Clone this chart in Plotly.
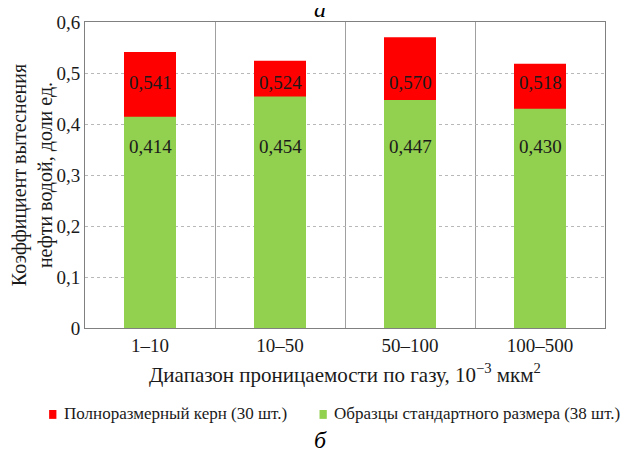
import plotly.graph_objects as go

categories = ["1–10", "10–50", "50–100", "100–500"]
full_core = [0.541, 0.524, 0.570, 0.518]
standard = [0.414, 0.454, 0.447, 0.430]
series_names = ["Полноразмерный керн (30 шт.)", "Образцы стандартного размера (38 шт.)"]
series_colors = ["#ff0000", "#92d050"]
ytick_vals = [0, 0.1, 0.2, 0.3, 0.4, 0.5, 0.6]
ytick_text = ["0", "0,1", "0,2", "0,3", "0,4", "0,5", "0,6"]

# label heights (style: value labels sit at a common height inside each segment)
RED_LABEL_Y = 0.482
GREEN_LABEL_Y = 0.355

FONT = "Liberation Serif"
TXT = "#1a1a1a"
fig = go.Figure()
fig.add_trace(go.Bar(x=categories, y=full_core, name=series_names[0],
                     marker=dict(color=series_colors[0], line=dict(width=0)), width=0.4))
fig.add_trace(go.Bar(x=categories, y=standard, name=series_names[1],
                     marker=dict(color=series_colors[1], line=dict(width=0)), width=0.4))

fmt = lambda v: f"{v:.3f}".replace(".", ",")
for c, r, g in zip(categories, full_core, standard):
    fig.add_annotation(x=c, y=RED_LABEL_Y, text=fmt(r), showarrow=False,
                       font=dict(family=FONT, size=19, color=TXT), yanchor="middle")
    fig.add_annotation(x=c, y=GREEN_LABEL_Y, text=fmt(g), showarrow=False,
                       font=dict(family=FONT, size=19, color=TXT), yanchor="middle")

# panel letters
fig.add_annotation(xref="paper", yref="paper", x=0.452, y=1.0, yshift=13, text="<i>а</i>",
                   showarrow=False, font=dict(family=FONT, size=24, color="#000"), yanchor="middle")
fig.add_annotation(xref="paper", yref="paper", x=0.452, y=-0.366, text="<i>б</i>",
                   showarrow=False, font=dict(family=FONT, size=24, color="#000"), yanchor="middle")

# manual single-line legend
legend_pos = [(-0.069, -0.044), (0.451, 0.475)]
for (sx, tx), name, col in zip(legend_pos, series_names, series_colors):
    fig.add_shape(type="rect", xref="paper", yref="paper", x0=sx, x1=sx + 0.014,
                  y0=-0.268, y1=-0.297, fillcolor=col, line=dict(width=0))
    fig.add_annotation(xref="paper", yref="paper", x=tx, y=-0.281, xanchor="left", yanchor="middle",
                       text=name, showarrow=False, font=dict(family=FONT, size=17, color=TXT))

# the page body has an 8px margin, so the figure is 8px smaller and margins shifted
fig.update_layout(
    width=630, height=444, barmode="overlay", separators=", ",
    paper_bgcolor="white", plot_bgcolor="white",
    margin=dict(l=77, r=33, t=14, b=124, autoexpand=False),
    font=dict(family=FONT, size=18, color=TXT),
    showlegend=False,
    xaxis=dict(type="category", tickson="boundaries", showgrid=True, gridcolor="#a0a0a0",
               ticks="", showline=True, linecolor="#808080", mirror=True, automargin=False,
               tickfont=dict(family=FONT, size=19, color=TXT), zeroline=False,
               title=dict(text="Диапазон проницаемости по газу, 10<sup>−3</sup> мкм<sup>2</sup>",
                          font=dict(family=FONT, size=21, color=TXT), standoff=12)),
    yaxis=dict(range=[0, 0.6], tickvals=ytick_vals, ticktext=ytick_text, showgrid=True,
               gridcolor="#b8b8b8", griddash="dot", showline=True, linecolor="#808080", mirror=True,
               ticks="", automargin=False, tickfont=dict(family=FONT, size=19, color=TXT), zeroline=False,
               title=dict(text="Коэффициент вытеснения<br>нефти водой, доли ед.",
                          font=dict(family=FONT, size=20, color=TXT), standoff=4)),
)
fig.write_html("out.html")
